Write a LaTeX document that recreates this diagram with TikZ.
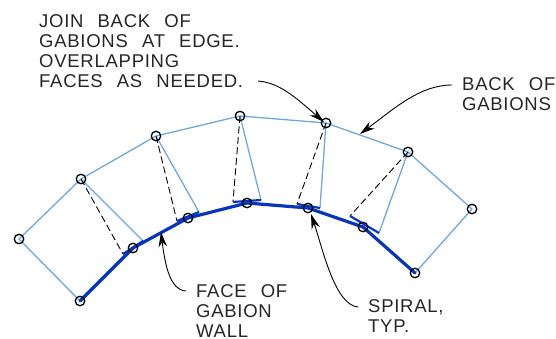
\documentclass[tikz,border=0pt]{standalone}
\usepackage{fontspec}
\setmainfont{Liberation Sans}
\usetikzlibrary{arrows.meta}
\newfontfamily\cadfont[LetterSpace=4,WordSpace=2.4]{Liberation Sans}
\definecolor{backblue}{HTML}{6FA8DC}
\definecolor{faceblue}{HTML}{0636BE}
\tikzset{
 pin/.style={circle,draw=black,line width=1.3pt,minimum size=9.5pt,inner sep=0pt},
 back/.style={draw=backblue,line width=1.3pt},
 face/.style={draw=faceblue,line width=3.2pt,line cap=round,line join=round},
 tick/.style={draw=faceblue,line width=2.2pt},
 hidden/.style={draw=black,line width=0.9pt,dash pattern=on 7pt off 3.5pt},
 leader/.style={draw=black,line width=0.9pt,-{Stealth[length=15pt,width=8.5pt]}},
 note/.style={font=\cadfont\fontsize{18.5}{20.2}\selectfont,text=black!85,align=left,anchor=north west,inner sep=0pt},
}
\begin{document}
\begin{tikzpicture}[x=1pt,y=-1pt]
\useasboundingbox (0,0) rectangle (556,339);
% pins
\coordinate (b0) at (80,301);
\coordinate (b1) at (19,239);
\coordinate (b2) at (81,179);
\coordinate (b3) at (156,136);
\coordinate (b4) at (240,116);
\coordinate (b5) at (326,123);
\coordinate (b6) at (408,152);
\coordinate (b7) at (472,209);
\coordinate (b8) at (415,273);
\coordinate (f1) at (133,248);
\coordinate (f2) at (188,218);
\coordinate (f3) at (247,203);
\coordinate (f4) at (308,208);
\coordinate (f5) at (363,227);
% tick ends
\coordinate (t1a) at (123,254); \coordinate (t1b) at (143,241);
\coordinate (t2a) at (177,221); \coordinate (t2b) at (199,212);
\coordinate (t3a) at (233,202); \coordinate (t3b) at (261,200);
\coordinate (t4a) at (297,204); \coordinate (t4b) at (320,208);
\coordinate (t5a) at (350,216); \coordinate (t5b) at (379,233);
% back lines
\path[back] (b0) -- (b1) -- (b2) -- (b3) -- (b4) -- (b5) -- (b6) -- (b7) -- (b8);
\path[back] (b2) -- (t1b);
\path[back] (b3) -- (t2b);
\path[back] (b4) -- (t3b);
\path[back] (b5) -- (t4b);
\path[back] (b6) -- (t5b);
% dashed
\path[hidden] (b2) -- (t1a);
\path[hidden] (b3) -- (t2a);
\path[hidden] (b4) -- (t3a);
\path[hidden] (b5) -- (t4a);
\path[hidden] (b6) -- (t5a);
% face
\path[face] (b0) -- (f1) -- (f2) -- (f3) -- (f4) -- (f5) -- (b8);
\path[tick] (t1a) -- (t1b);
\path[tick] (t2a) -- (t2b);
\path[tick] (t3a) -- (t3b);
\path[tick] (t4a) -- (t4b);
\path[tick] (t5a) -- (t5b);
% pin nodes
\foreach \n in {b0,b1,b2,b3,b4,b5,b6,b7,b8,f1,f2,f3,f4,f5}
  \node[pin] (p\n) at (\n) {};
% texts
\node[note] (n1) at (39,14) {JOIN BACK OF\\GABIONS AT EDGE.\\OVERLAPPING\\FACES AS NEEDED.};
\node[note] (n2) at (462,77) {BACK OF\\GABIONS};
\node[note] (n3) at (196,284) {FACE OF\\GABION\\WALL};
\node[note] (n4) at (368,299) {SPIRAL,\\TYP.};
% leaders
\coordinate (l1) at (258,81);
\coordinate (l1t) at (324,122);
\coordinate (l2) at (452,85);
\coordinate (l2t) at (360,134);
\coordinate (l3) at (186,291);
\coordinate (l3t) at (161,232);
\coordinate (l4) at (358,307);
\coordinate (l4t) at (311,214);
\path[leader] (l1) .. controls (280,83) and (295,97) .. (l1t);
\path[leader] (l2) .. controls (420,85) and (395,108) .. (l2t);
\path[leader] (l3) .. controls (170,290) and (165,265) .. (l3t);
\path[leader] (l4) .. controls (335,305) and (323,250) .. (l4t);
\end{tikzpicture}
\end{document}
